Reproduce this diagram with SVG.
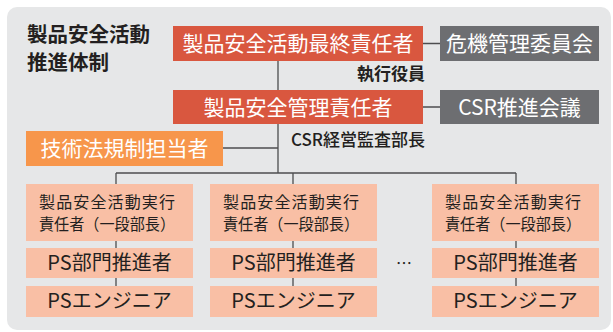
<svg xmlns="http://www.w3.org/2000/svg" width="613" height="332" viewBox="0 0 613 332">
<style>
text{font-family:"Noto Sans CJK JP","Noto Sans",sans-serif}
.w{fill:#fff;font-size:21px;text-anchor:middle}
.d{fill:#231f20}
.red{fill:#d9573f}
.gray{fill:#6d6e71}
.pk{fill:#f9bfa5}
.c{font-size:16px;text-anchor:middle}
.m{font-size:20px;text-anchor:middle}
.ln{stroke:#4d4d4f;stroke-width:1.3;fill:none}
</style>
<rect x="7" y="7" width="604" height="323" rx="10" fill="#e6e7e8"/>
<text class="d" x="27" y="42" font-size="20.5" font-weight="bold">製品安全活動</text>
<text class="d" x="27" y="70" font-size="20.5" font-weight="bold">推進体制</text>
<g id="connectors">
<path class="ln" d="M278 61V173M423 43.5H440M423 107H440M223 148H278M116 173H516M116 173V286M293 173V286M516 173V286"/>
</g>
<g id="n1"><rect class="red" x="173" y="26" width="250" height="35"/><text class="w" x="298" y="51">製品安全活動最終責任者</text></g>
<g id="n2"><rect class="gray" x="440" y="26" width="159" height="35"/><text class="w" x="519.5" y="51">危機管理委員会</text></g>
<g id="l1"><text class="d" x="425" y="80" font-size="17" font-weight="bold" text-anchor="end">執行役員</text></g>
<g id="n3"><rect class="red" x="173" y="90" width="250" height="34"/><text class="w" x="298" y="115">製品安全管理責任者</text></g>
<g id="n4"><rect class="gray" x="440" y="90" width="159" height="34"/><text class="w" x="519.5" y="115">CSR推進会議</text></g>
<g id="l2"><text class="d" x="425" y="146" font-size="17" font-weight="500" text-anchor="end">CSR経営監査部長</text></g>
<g id="n5"><rect fill="#f7964b" x="26" y="131" width="197" height="35"/><text class="w" x="124.5" y="156">技術法規制担当者</text></g>
<g id="c1a"><rect class="pk" x="26" y="184" width="167" height="57"/><text class="d c" x="107" y="208" textLength="136">製品安全活動実行</text><text class="d c" x="107" y="230" textLength="136" lengthAdjust="spacingAndGlyphs">責任者（一段部長）</text></g>
<g id="c1b"><rect class="pk" x="26" y="248" width="167" height="30"/><text class="d m" x="109.5" y="270">PS部門推進者</text></g>
<g id="c1c"><rect class="pk" x="26" y="286" width="167" height="31"/><text class="d m" x="109.5" y="308">PSエンジニア</text></g>
<g id="c2a"><rect class="pk" x="210" y="184" width="167" height="57"/><text class="d c" x="291" y="208" textLength="136">製品安全活動実行</text><text class="d c" x="291" y="230" textLength="136" lengthAdjust="spacingAndGlyphs">責任者（一段部長）</text></g>
<g id="c2b"><rect class="pk" x="210" y="248" width="167" height="30"/><text class="d m" x="293.5" y="270">PS部門推進者</text></g>
<g id="c2c"><rect class="pk" x="210" y="286" width="167" height="31"/><text class="d m" x="293.5" y="308">PSエンジニア</text></g>
<g id="c3a"><rect class="pk" x="432" y="184" width="167" height="57"/><text class="d c" x="513" y="208" textLength="136">製品安全活動実行</text><text class="d c" x="513" y="230" textLength="136" lengthAdjust="spacingAndGlyphs">責任者（一段部長）</text></g>
<g id="c3b"><rect class="pk" x="432" y="248" width="167" height="30"/><text class="d m" x="515.5" y="270">PS部門推進者</text></g>
<g id="c3c"><rect class="pk" x="432" y="286" width="167" height="31"/><text class="d m" x="515.5" y="308">PSエンジニア</text></g>
<g id="dots"><text class="d" x="404" y="269" font-size="16" text-anchor="middle">…</text></g>
</svg>
